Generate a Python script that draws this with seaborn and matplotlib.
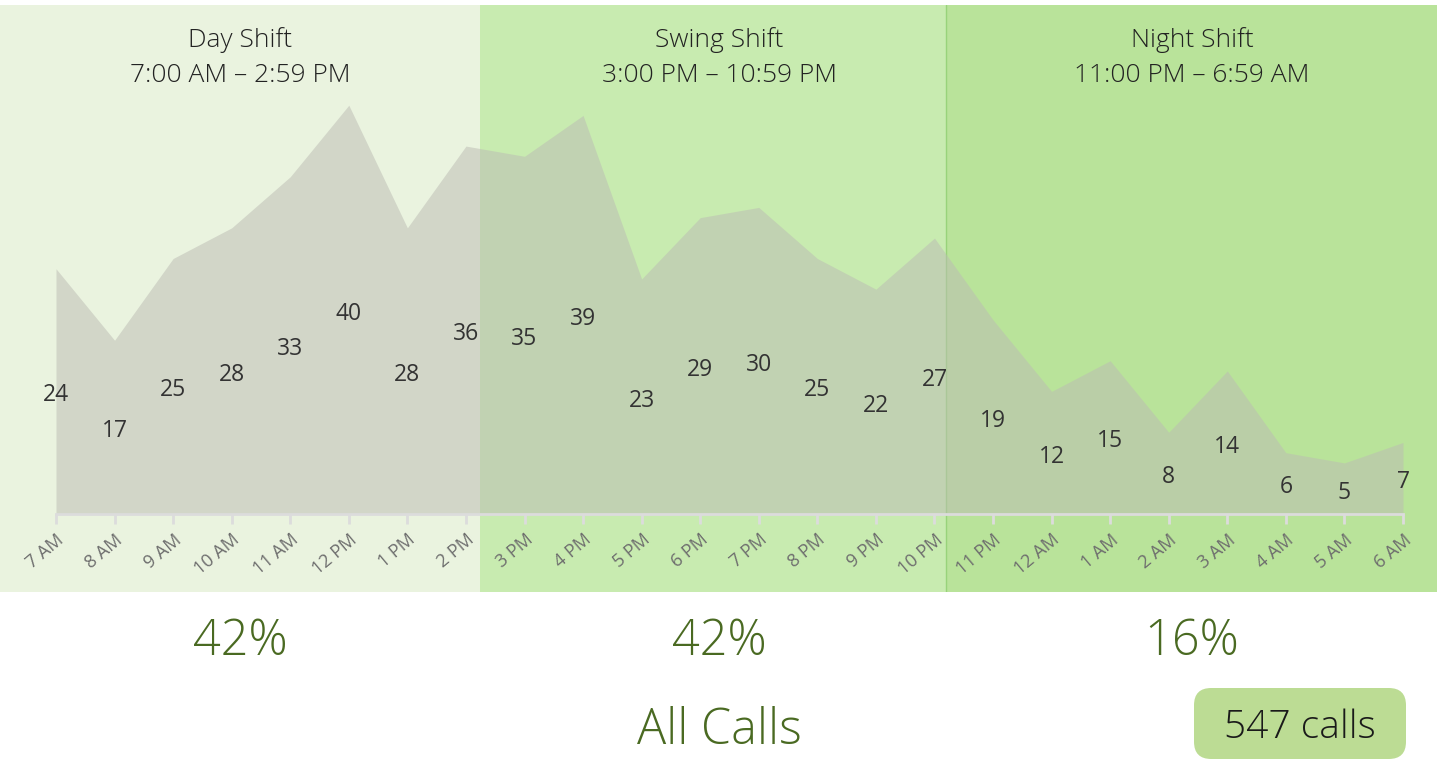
import matplotlib
matplotlib.use("Agg")
import matplotlib.pyplot as plt
import seaborn as sns
import pandas as pd
from matplotlib.patches import FancyBboxPatch

# data
hours = ['7 AM', '8 AM', '9 AM', '10 AM', '11 AM', '12 PM', '1 PM', '2 PM',
         '3 PM', '4 PM', '5 PM', '6 PM', '7 PM', '8 PM', '9 PM', '10 PM',
         '11 PM', '12 AM', '1 AM', '2 AM', '3 AM', '4 AM', '5 AM', '6 AM']
calls = [24, 17, 25, 28, 33, 40, 28, 36,
         35, 39, 23, 29, 30, 25, 22, 27,
         19, 12, 15, 8, 14, 6, 5, 7]
shift_names = ['Day Shift', 'Swing Shift', 'Night Shift']
shift_times = ['7:00 AM \u2013 2:59 PM', '3:00 PM \u2013 10:59 PM', '11:00 PM \u2013 6:59 AM']
shift_pct = ['42%', '42%', '16%']
total_label = '547 calls'

df = pd.DataFrame({'idx': range(len(hours)), 'hour': hours, 'calls': calls})

sns.set_theme(style="white")
plt.rcParams['font.family'] = ['Open Sans', 'DejaVu Sans']

W, H = 1437, 761
fig = plt.figure(figsize=(W / 100, H / 100), dpi=100)

# pixel -> data mapping
x0px, step = 56, (1403 - 56) / 23
base_px, unit = 514, 10.22
top_px, bot_px = 5, 592
ax = fig.add_axes([0, 1 - bot_px / H, 1, (bot_px - top_px) / H])
ax.set_xlim(-x0px / step, (W - x0px) / step)
ax.set_ylim(-(bot_px - base_px) / unit, (base_px - top_px) / unit)

def px2x(p):
    return (p - x0px) / step

# shift bands
bands = [(0, 480, '#EAF3DF'), (480, 946, '#C8EBB0'), (946, W, '#B9E39A')]
for a, b, c in bands:
    ax.axvspan(px2x(a), px2x(b), color=c, zorder=0, lw=0)
ax.axvline(px2x(946), color='#98D37A', lw=1, zorder=1)

# area
sns.lineplot(data=df, x='idx', y='calls', ax=ax, color='#BDBDB6', lw=0, zorder=2)
ax.fill_between(df['idx'], 0, df['calls'], color='#BCBCB4', alpha=0.52, lw=0, zorder=2)

for i, v in enumerate(calls):
    ax.text(i, v / 2 - 0.4, str(v), ha='center', va='center', fontsize=16.5,
            color='#333333', zorder=3)

# axis
for s in ['top', 'right', 'left']:
    ax.spines[s].set_visible(False)
ax.spines['bottom'].set_position(('data', 0))
ax.spines['bottom'].set_bounds(0, 23)
ax.spines['bottom'].set_color('#DCDCDC')
ax.spines['bottom'].set_linewidth(2)
ax.spines['bottom'].set_zorder(3)
ax.set_yticks([])
ax.set_xticks(range(len(hours)))
ax.set_xticklabels(hours, rotation=40, ha='right', rotation_mode='anchor',
                   fontsize=13, color='#6E6E6E')
ax.tick_params(axis='x', direction='out', length=7, width=2, color='#DCDCDC',
               pad=5, bottom=True)
ax.set_xlabel('')
ax.set_ylabel('')
ax.grid(False)

# shift titles
centers = [240, 719, 1192]
for c, n, t in zip(centers, shift_names, shift_times):
    fig.text(c / W, 1 - 40 / H, n, ha='center', va='center', fontsize=19,
             color='#222222', fontweight='light')
    fig.text(c / W, 1 - 75 / H, t, ha='center', va='center', fontsize=19,
             color='#222222', fontweight='light')

for c, p in zip(centers, shift_pct):
    fig.text(c / W, 1 - 642 / H, p, ha='center', va='center', fontsize=35,
             color='#4A6A22', fontweight='light')

fig.text(719 / W, 1 - 731 / H, 'All Calls', ha='center', va='center',
         fontsize=35, color='#4A6A22', fontweight='light')

badge = FancyBboxPatch((1194 / W, 1 - 759 / H), 212 / W, 71 / H,
                       boxstyle='round,pad=0,rounding_size=0.012',
                       transform=fig.transFigure, facecolor='#BCDC94',
                       edgecolor='none', mutation_aspect=W / H)
fig.patches.append(badge)
fig.text(1300 / W, 1 - 728 / H, total_label, ha='center', va='center',
         fontsize=28, color='#1A1A1A', fontweight='light')

fig.savefig('out.png', dpi=100)
